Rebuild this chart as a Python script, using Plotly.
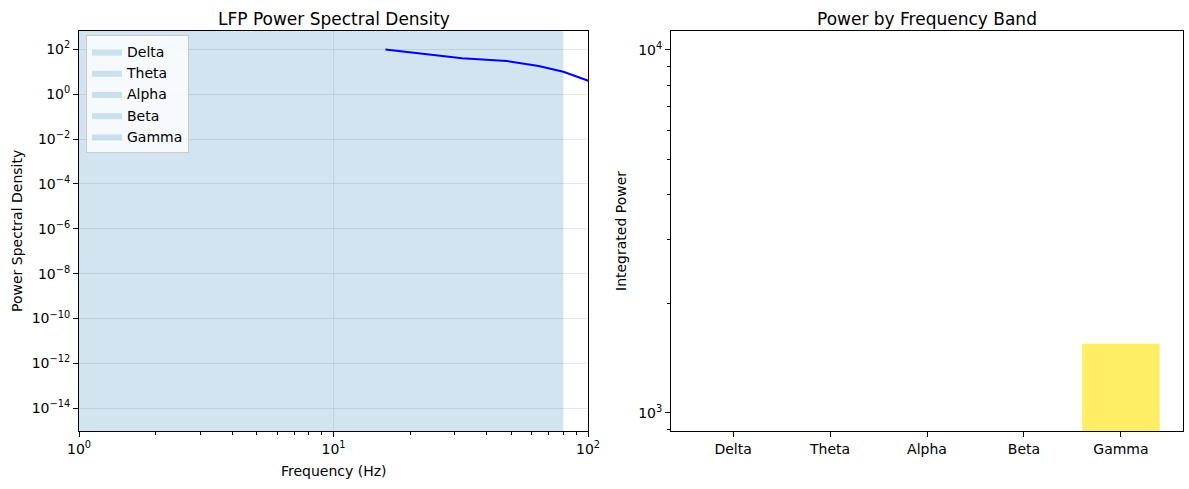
import numpy as np
import plotly.graph_objects as go

# ---------------- data ----------------
band_names = ["Delta", "Theta", "Alpha", "Beta", "Gamma"]
band_low = [1, 4, 8, 13, 30]
band_high = [4, 8, 13, 30, 80]

psd_freqs = [16, 32, 48, 64, 80, 96, 112]
psd_values = [97, 40, 30, 18, 10, 4.8, 2.5]

band_power = [0, 0, 0, 0, 1550]
bar_colors = ["rgba(68,1,84,0.7)", "rgba(59,82,139,0.7)", "rgba(33,145,140,0.7)",
              "rgba(94,201,98,0.7)", "rgba(253,231,37,0.7)"]

left_yticks = [1e2, 1e0, 1e-2, 1e-4, 1e-6, 1e-8, 1e-10, 1e-12, 1e-14]
left_ytext = ["10<sup>2</sup>", "10<sup>0</sup>", "10<sup>−2</sup>", "10<sup>−4</sup>",
              "10<sup>−6</sup>", "10<sup>−8</sup>", "10<sup>−10</sup>", "10<sup>−12</sup>",
              "10<sup>−14</sup>"]
left_xticks = [1, 10, 100]
left_xtext = ["10<sup>0</sup>", "10<sup>1</sup>", "10<sup>2</sup>"]
right_yticks = [1e3, 1e4]
right_ytext = ["10<sup>3</sup>", "10<sup>4</sup>"]

FONT = "DejaVu Sans"
W, H = 1189, 489

fig = go.Figure()

# shaded bands
for name, lo, hi in zip(band_names, band_low, band_high):
    fig.add_trace(go.Scatter(
        x=[lo, hi, hi, lo, lo], y=[1e-30, 1e-30, 1e10, 1e10, 1e-30],
        fill="toself", fillcolor="rgba(31,119,180,0.2)", mode="lines",
        line=dict(width=0, color="rgba(31,119,180,0.2)"),
        name=name, xaxis="x", yaxis="y", hoverinfo="skip", showlegend=True))

fig.add_trace(go.Scatter(x=psd_freqs, y=psd_values, mode="lines",
                         line=dict(color="#0000ff", width=2), showlegend=False,
                         xaxis="x", yaxis="y"))

fig.add_trace(go.Bar(x=band_names, y=band_power, marker=dict(color=bar_colors, line=dict(width=0)),
                     width=0.8, showlegend=False, xaxis="x2", yaxis="y2"))

ydom = [1 - 431 / H, 1 - 31 / H]
axis_common = dict(showline=True, linecolor="black", linewidth=1, mirror=True,
                   ticks="outside", ticklen=5, tickwidth=1, tickcolor="black",
                   tickfont=dict(family=FONT, size=14, color="black"), zeroline=False,
                   automargin=False)

minor_x = [v * m for m in (1, 10) for v in range(2, 10)]
fig.update_layout(
    width=W, height=H, margin=dict(l=0, r=0, t=0, b=0, autoexpand=False),
    plot_bgcolor="white", paper_bgcolor="white",
    font=dict(family=FONT, size=14, color="black"),
    xaxis=dict(domain=[79 / W, 588 / W], type="log", range=[0, 2], anchor="y",
               tickmode="array", tickvals=left_xticks, ticktext=left_xtext,
               showgrid=True, gridcolor="rgba(176,176,176,0.3)", gridwidth=1,
               minor=dict(tickmode="array", tickvals=minor_x, ticks="outside", ticklen=3,
                          tickcolor="black", showgrid=False),
               **axis_common),
    yaxis=dict(domain=ydom, type="log", range=[-15.01, 2.815], anchor="x",
               tickmode="array", tickvals=left_yticks, ticktext=left_ytext,
               showgrid=True, gridcolor="rgba(176,176,176,0.3)", gridwidth=1,
               **axis_common),
    xaxis2=dict(domain=[671 / W, 1183 / W], range=[-0.64, 4.64], anchor="y2",
                showgrid=False, **axis_common),
    yaxis2=dict(domain=ydom, type="log", range=[2.95, 4.052], anchor="x2",
                tickmode="array", tickvals=right_yticks, ticktext=right_ytext,
                showgrid=False,
                minor=dict(tickmode="array", tickvals=[900, 2000, 3000, 4000, 5000, 6000, 7000, 8000, 9000],
                           ticks="outside", ticklen=3, tickcolor="black", showgrid=False),
                **axis_common),
    legend=dict(x=86 / W, y=1 - 35 / H, xanchor="left", yanchor="top",
                bgcolor="rgba(255,255,255,0.8)", bordercolor="#cccccc", borderwidth=1,
                font=dict(family=FONT, size=14, color="black")),
    annotations=[
        dict(text="LFP Power Spectral Density", x=334 / W, y=1 - 19 / H, xref="paper", yref="paper",
             showarrow=False, font=dict(family=FONT, size=17), xanchor="center", yanchor="middle"),
        dict(text="Power by Frequency Band", x=927 / W, y=1 - 19 / H, xref="paper", yref="paper",
             showarrow=False, font=dict(family=FONT, size=17), xanchor="center", yanchor="middle"),
        dict(text="Frequency (Hz)", x=334 / W, y=1 - 471 / H, xref="paper", yref="paper",
             showarrow=False, font=dict(family=FONT, size=14), xanchor="center", yanchor="middle"),
        dict(text="Power Spectral Density", x=17 / W, y=1 - 231 / H, xref="paper", yref="paper",
             showarrow=False, font=dict(family=FONT, size=14), textangle=-90,
             xanchor="center", yanchor="middle"),
        dict(text="Integrated Power", x=621 / W, y=1 - 231 / H, xref="paper", yref="paper",
             showarrow=False, font=dict(family=FONT, size=14), textangle=-90,
             xanchor="center", yanchor="middle"),
    ],
)

fig.write_html("out.html")
